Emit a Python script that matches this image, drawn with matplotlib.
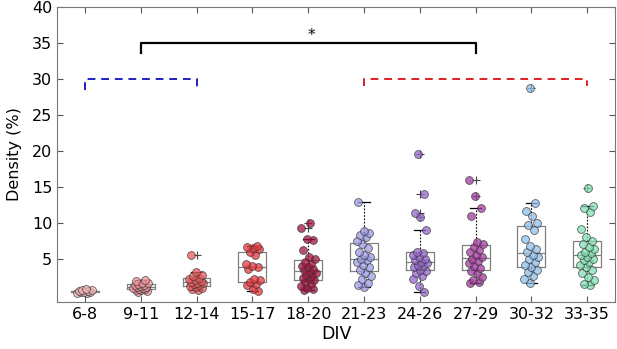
import matplotlib
matplotlib.use("Agg")
import matplotlib.pyplot as plt
import numpy as np

# DIV groups
groups = ["6-8", "9-11", "12-14", "15-17", "18-20",
          "21-23", "24-26", "27-29", "30-32", "33-35"]

d_6_8 = [0.2, 0.3, 0.35, 0.4, 0.45, 0.5, 0.55, 0.6, 0.7, 0.8]
d_9_11 = [0.4, 0.5, 0.6, 0.7, 0.8, 0.85, 0.9, 1.0, 1.05, 1.1, 1.2,
          1.3, 1.4, 1.5, 1.6, 1.7, 1.9, 2.1]
d_12_14 = [0.6, 0.8, 1.0, 1.1, 1.2, 1.3, 1.5, 1.6, 1.7, 1.8, 1.9,
           2.0, 2.2, 2.4, 2.6, 2.8, 3.1, 5.5]
d_15_17 = [0.5, 0.8, 1.3, 1.5, 1.8, 2.0, 2.2, 3.6, 3.8, 4.0, 4.3,
           5.6, 6.0, 6.3, 6.5, 6.7, 6.8]
d_18_20 = [0.6, 0.8, 1.0, 1.2, 1.5, 1.8, 2.0, 2.2, 2.4, 2.6, 2.8, 3.0,
           3.2, 3.4, 3.6, 3.8, 4.0, 4.3, 4.6, 5.0, 5.3, 6.2, 7.6, 7.8, 9.3, 10.0]
d_21_23 = [1.1, 1.3, 1.7, 2.2, 2.6, 3.0, 3.5, 3.9, 4.2, 4.5, 4.8, 5.0,
           5.2, 5.5, 6.0, 6.5, 7.0, 7.5, 8.0, 8.3, 8.6, 8.9, 12.9]
d_24_26 = [0.4, 1.2, 2.2, 2.6, 3.0, 3.3, 3.5, 3.8, 4.0, 4.2, 4.4, 4.6,
           4.8, 5.0, 5.2, 5.5, 5.8, 6.0, 9.0, 10.8, 11.4, 14.0, 19.6]
d_27_29 = [1.7, 1.8, 2.0, 2.5, 3.0, 3.3, 3.7, 4.0, 4.4, 4.7, 5.0, 5.3,
           5.6, 5.9, 6.2, 6.6, 7.0, 7.3, 11.0, 12.1, 13.7, 16.0]
d_30_32 = [1.6, 2.2, 2.6, 3.1, 3.5, 3.8, 4.2, 4.6, 5.0, 5.3, 5.6, 6.0,
           6.3, 6.8, 7.7, 9.0, 9.7, 10.0, 11.0, 11.6, 12.8, 28.8]
d_33_35 = [1.3, 1.5, 2.0, 2.5, 3.0, 3.4, 3.8, 4.2, 4.5, 4.8, 5.0, 5.2,
           5.5, 5.8, 6.0, 6.3, 6.6, 7.0, 7.5, 8.0, 9.1, 11.5, 12.0, 12.4, 14.8]

data = [d_6_8, d_9_11, d_12_14, d_15_17, d_18_20,
        d_21_23, d_24_26, d_27_29, d_30_32, d_33_35]

colors = ["#f2b3b8", "#f0969c", "#ec5a5e", "#e8373d", "#a3123f",
          "#9c9ce6", "#9466cc", "#a23b9e", "#8fc0ea", "#7fe0b2"]

fig = plt.figure(figsize=(6.17, 3.49), dpi=100)
ax = fig.add_axes([0.0924, 0.1347, 0.9045, 0.8453])

pos = np.arange(1, len(groups) + 1)

box_col = "#808080"
ax.boxplot(data, positions=pos, widths=0.5, whis=1.5,
           boxprops=dict(color=box_col, linewidth=0.9),
           medianprops=dict(color=box_col, linewidth=0.9),
           whiskerprops=dict(color="black", linewidth=0.8, linestyle=(0, (1.5, 1.5))),
           capprops=dict(color="black", linewidth=0.9),
           flierprops=dict(marker="+", markeredgecolor="#444444", markersize=6,
                           markeredgewidth=0.8),
           capwidths=0.2, zorder=1)

# jittered points (deterministic spread around each box)
for i, (vals, c) in enumerate(zip(data, colors)):
    n = len(vals)
    offs = np.array([((k * 0.618 + i * 0.3) % 1.0) - 0.5 for k in range(n)]) * 0.27
    ax.scatter(pos[i] + offs, vals, s=32, color=c, alpha=0.75,
               edgecolor="#333333", linewidth=0.6, zorder=3)

# significance brackets
ax.plot([2, 2, 8, 8], [33.6, 35, 35, 33.6], color="black", lw=1.6, zorder=4)
ax.text(5.05, 36.1, "*", ha="center", va="center", fontsize=11)
ax.plot([1, 1, 3, 3], [28.5, 30, 30, 28.5], color="#2020c0", lw=1.4,
        linestyle=(0, (4, 3)), zorder=4)
ax.plot([6, 6, 10, 10], [29.0, 30, 30, 29.0], color="#dd2020", lw=1.4,
        linestyle=(0, (4, 3)), zorder=4)

ax.set_xlim(0.5, 10.5)
ax.set_ylim(-1, 40)
ax.set_xticks(pos)
ax.set_xticklabels(groups)
ax.set_yticks([5, 10, 15, 20, 25, 30, 35, 40])
ax.tick_params(direction="in", length=4, width=0.8, colors="#555555",
               labelcolor="black", labelsize=11.5, top=True, right=True)
for sp in ax.spines.values():
    sp.set_color("#777777")
    sp.set_linewidth(0.8)
ax.set_xlabel("DIV", fontsize=12.5, labelpad=2)
ax.set_ylabel("Density (%)", fontsize=11.5, labelpad=7)

fig.savefig("out.png", dpi=100)
